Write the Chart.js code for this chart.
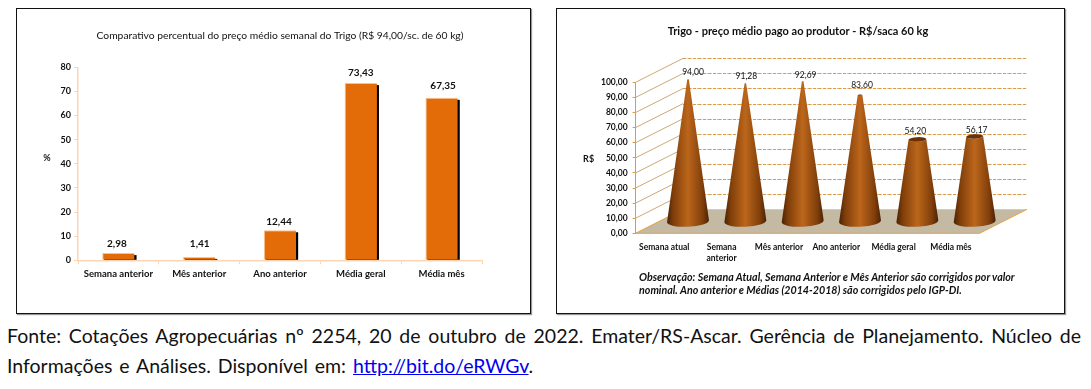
<!DOCTYPE html>
<html lang="pt-BR">
<head>
<meta charset="utf-8">
<title>Trigo</title>
<script src="https://cdn.jsdelivr.net/npm/chart.js@4"></script>
<style>
  html, body { margin: 0; padding: 0; background: #fff; }
  body { width: 1091px; height: 389px; position: relative; overflow: hidden; font-family: Lato, sans-serif; }
  .panel { position: absolute; box-sizing: border-box; top: 8px; height: 306px; border: 1.5px solid #111; box-shadow: 1px 1px 1px #999; }
  #panelLeft { left: 16px; width: 515px; }
  #panelRight { left: 556px; width: 509px; }
  canvas { position: absolute; top: 8px; }
  #note { position: absolute; left: 639px; top: 270px; width: 400px; font: italic bold 10.7px/13px Lato, sans-serif; color: #111; white-space: nowrap; }
  #source { position: absolute; left: 7px; top: 321px; width: 1074px; font-size: 19.5px; line-height: 30px; color: #111; white-space: nowrap; }
  #source div:first-child { text-align: justify; text-align-last: justify; }
  #source div:last-child { word-spacing: 2px; }
  #source a { color: #0000ee; }
</style>
</head>
<body>
<div class="panel" id="panelLeft"></div>
<div class="panel" id="panelRight"></div>
<canvas id="percentChart" width="515" height="306" style="left:16px"></canvas>
<canvas id="priceChart" width="509" height="306" style="left:556px"></canvas>
<div id="note">Observação: Semana Atual, Semana Anterior e Mês Anterior são corrigidos por valor<br>nominal. Ano anterior e Médias (2014-2018) são corrigidos pelo IGP-DI.</div>
<div id="source">
  <div>Fonte: Cotações Agropecuárias nº 2254, 20 de outubro de 2022. Emater/RS-Ascar. Gerência de Planejamento. Núcleo de</div>
  <div>Informações e Análises. Disponível em: <a href="#">http://bit.do/eRWGv</a>.</div>
</div>
<script>
const percentCategories = ['Semana anterior', 'Mês anterior', 'Ano anterior', 'Média geral', 'Média mês'];
const percentValues = [2.98, 1.41, 12.44, 73.43, 67.35];
const percentTicks = ['0', '10', '20', '30', '40', '50', '60', '70', '80'];
const percentLabelGap = [9.3, 13.3, 8.3, 10.7, 12];
const percentLabelShift = [-1.5, 0.5, -1, 0, 1.5];

const priceCategories = ['Semana atual', ['Semana', 'anterior'], 'Mês anterior', 'Ano anterior', 'Média geral', 'Média mês'];
const priceValues = [94.00, 91.28, 92.69, 83.60, 54.20, 56.17];
const priceTicks = ['0,00', '10,00', '20,00', '30,00', '40,00', '50,00', '60,00', '70,00', '80,00', '90,00', '100,00'];
const priceLabelGap = [6.7, 7.5, 6, 9.7, 8.2, 6.5];
const priceLabelShift = [5, 1, 3, 2, -2, 2];

const fontFamily = 'Lato, sans-serif';
const textColor = '#111';

function formatValue(v) {
    return v.toFixed(2).replace('.', ',');
}

// text that has to sit at a fixed place on the canvas (horizontal axis names, off-centre title)
function fixedText(items) {
    return {
        id: 'fixedText',
        afterDraw(chart) {
            const ctx = chart.ctx;
            ctx.save();
            ctx.fillStyle = textColor;
            ctx.textAlign = 'center';
            ctx.textBaseline = 'middle';
            items.forEach(t => {
                ctx.font = t.font + ' ' + fontFamily;
                ctx.fillText(t.text, t.x, t.y);
            });
            ctx.restore();
        }
    };
}

// black hard shadow on the orange bars
const barShadow = {
    id: 'barShadow',
    beforeDatasetsDraw(chart) {
        const ctx = chart.ctx;
        ctx.save();
        ctx.fillStyle = '#000';
        chart.getDatasetMeta(0).data.forEach(bar => {
            const h = bar.base - bar.y - 2;
            if (h > 0) ctx.fillRect(bar.x - bar.width / 2 + 2, bar.y + 2, bar.width, h);
        });
        ctx.restore();
    }
};

const barLabels = {
    id: 'barLabels',
    afterDatasetsDraw(chart) {
        const ctx = chart.ctx;
        ctx.save();
        ctx.font = 'bold 10px ' + fontFamily;
        ctx.fillStyle = textColor;
        ctx.textAlign = 'center';
        ctx.textBaseline = 'middle';
        chart.getDatasetMeta(0).data.forEach((bar, i) => {
            ctx.fillText(formatValue(percentValues[i]), bar.x + percentLabelShift[i], bar.y - percentLabelGap[i]);
        });
        ctx.restore();
    }
};

new Chart(document.getElementById('percentChart'), {
    type: 'bar',
    data: {
        labels: percentCategories,
        datasets: [{
            data: percentValues,
            backgroundColor: '#E36C09',
            borderColor: '#FAC090',
            borderWidth: { top: 1, left: 1, right: 0, bottom: 0 },
            barPercentage: 0.4,
            categoryPercentage: 1
        }]
    },
    plugins: [barShadow, barLabels, fixedText([{ text: '%', font: 'bold 9px', x: 31, y: 150 }])],
    options: {
        responsive: false,
        animation: false,
        layout: { padding: { left: 20, right: 49, top: 21, bottom: 20 } },
        plugins: {
            legend: { display: false },
            tooltip: { enabled: false },
            title: {
                display: true,
                fullSize: false,
                text: 'Comparativo percentual do preço médio semanal do Trigo (R$ 94,00/sc. de 60 kg)',
                color: textColor,
                font: { family: fontFamily, size: 10.3, weight: 'normal', lineHeight: 1.2 },
                padding: { top: 0, bottom: 25.9 }
            }
        },
        scales: {
            x: {
                grid: { drawOnChartArea: false, color: '#FCD5B5', tickLength: 4 },
                border: { color: '#FCD5B5', width: 1.5 },
                ticks: { color: textColor, font: { family: fontFamily, size: 9.5, weight: 'bold' }, padding: 4, maxRotation: 0 },
                afterFit(scale) { scale.height = 33.7; }
            },
            y: {
                min: 0,
                max: 80,
                grid: { drawOnChartArea: false, color: '#FCD5B5', tickLength: 4 },
                border: { color: '#FCD5B5', width: 1.5 },
                ticks: {
                    stepSize: 10,
                    color: textColor,
                    font: { family: fontFamily, size: 9, weight: 'bold' },
                    padding: 3,
                    callback: (v, i) => percentTicks[i]
                },
                afterFit(scale) { scale.width = 42; }
            }
        }
    }
});

// fake 3D: back wall, side wall and floor behind the cones
const depthX = 47.5;
const depthY = -24;

const wallsAndCones = {
    id: 'wallsAndCones',
    beforeDatasetsDraw(chart) {
        const ctx = chart.ctx;
        const area = chart.chartArea;
        const yScale = chart.scales.y;
        ctx.save();
        // floor
        ctx.beginPath();
        ctx.moveTo(area.left, area.bottom);
        ctx.lineTo(area.left + depthX, area.bottom + depthY);
        ctx.lineTo(area.right + depthX, area.bottom + depthY);
        ctx.lineTo(area.right, area.bottom);
        ctx.closePath();
        ctx.fillStyle = '#C4BAA4';
        ctx.fill();
        ctx.beginPath();
        ctx.moveTo(area.left, area.bottom);
        ctx.lineTo(area.right, area.bottom);
        ctx.lineTo(area.right + depthX, area.bottom + depthY);
        ctx.strokeStyle = '#E8A03C';
        ctx.lineWidth = 1;
        ctx.stroke();
        // side wall and back wall lines
        yScale.ticks.forEach(t => {
            const y = yScale.getPixelForValue(t.value);
            ctx.beginPath();
            ctx.moveTo(area.left, y);
            ctx.lineTo(area.left + depthX, y + depthY);
            ctx.strokeStyle = t.value === 0 ? '#E8A03C' : '#CDA873';
            ctx.lineWidth = 1;
            ctx.setLineDash([]);
            ctx.stroke();
            if (t.value === 0) return;
            const wallY = Math.round(y + depthY) + 0.5;
            ctx.beginPath();
            ctx.moveTo(area.left + depthX, wallY);
            ctx.lineTo(area.right + depthX, wallY);
            ctx.strokeStyle = '#C9C5BD';
            ctx.setLineDash([1, 1]);
            ctx.stroke();
            ctx.beginPath();
            ctx.moveTo(area.left + depthX, wallY);
            ctx.lineTo(area.right + depthX, wallY);
            ctx.strokeStyle = '#DD9A45';
            ctx.setLineDash([3, 2]);
            ctx.stroke();
            ctx.setLineDash([]);
        });
        // cones
        const maxValue = Math.max(...priceValues);
        const baseHalf = 21;
        const flat = 0.26;
        const tilt = -0.05;
        chart.getDatasetMeta(0).data.forEach((bar, i) => {
            const cx = bar.x + depthX / 2;
            const baseY = area.bottom + depthY / 2;
            const topY = bar.y + depthY / 2;
            const topHalf = Math.max(baseHalf * (1 - priceValues[i] / maxValue), 0.8);
            const grad = ctx.createLinearGradient(cx - baseHalf, 0, cx + baseHalf, 0);
            grad.addColorStop(0, '#4A2204');
            grad.addColorStop(0.15, '#7F3E0A');
            grad.addColorStop(0.5, '#BC661B');
            grad.addColorStop(0.85, '#7F3E0A');
            grad.addColorStop(1, '#4A2204');
            ctx.beginPath();
            ctx.ellipse(cx, baseY, baseHalf, baseHalf * flat, tilt, 0, Math.PI);
            ctx.ellipse(cx, topY, topHalf, topHalf * flat, tilt, Math.PI, 0, true);
            ctx.closePath();
            ctx.fillStyle = grad;
            ctx.fill();
            ctx.beginPath();
            ctx.ellipse(cx, topY, topHalf, topHalf * flat, tilt, 0, Math.PI * 2);
            ctx.fillStyle = '#6B3107';
            ctx.fill();
            ctx.font = '8.5px ' + fontFamily;
            ctx.fillStyle = textColor;
            ctx.textAlign = 'center';
            ctx.textBaseline = 'middle';
            ctx.fillText(formatValue(priceValues[i]), cx + priceLabelShift[i], topY - priceLabelGap[i]);
        });
        ctx.restore();
    }
};

new Chart(document.getElementById('priceChart'), {
    type: 'bar',
    data: {
        labels: priceCategories,
        datasets: [{
            data: priceValues,
            backgroundColor: 'rgba(0,0,0,0)',
            categoryPercentage: 1,
            barPercentage: 0.7
        }]
    },
    plugins: [wallsAndCones, fixedText([
        { text: 'Trigo - preço médio pago ao produtor - R$/saca 60 kg', font: 'bold 11px', x: 242, y: 23.3 },
        { text: 'R$', font: 'bold 9px', x: 32.6, y: 151.3 }
    ])],
    options: {
        responsive: false,
        animation: false,
        layout: { padding: { left: 20, right: 85.4, top: 74.3, bottom: 30 } },
        plugins: {
            legend: { display: false },
            tooltip: { enabled: false }
        },
        scales: {
            x: {
                grid: { display: false },
                border: { display: false },
                ticks: { color: textColor, font: { family: fontFamily, size: 8.5, weight: 'bold', lineHeight: 1.3 }, padding: 0, maxRotation: 0, autoSkip: false },
                afterFit(scale) { scale.height = 50.7; }
            },
            y: {
                min: 0,
                max: 100,
                grid: { drawOnChartArea: false, color: '#E39A3C', tickLength: 3 },
                border: { color: '#E39A3C', dash: [2, 2] },
                ticks: {
                    stepSize: 10,
                    color: textColor,
                    font: { family: fontFamily, size: 8.5, weight: 'bold' },
                    padding: 5,
                    callback: (v, i) => priceTicks[i]
                },
                afterFit(scale) { scale.width = 59.6; }
            }
        }
    }
});
</script>
</body>
</html>
